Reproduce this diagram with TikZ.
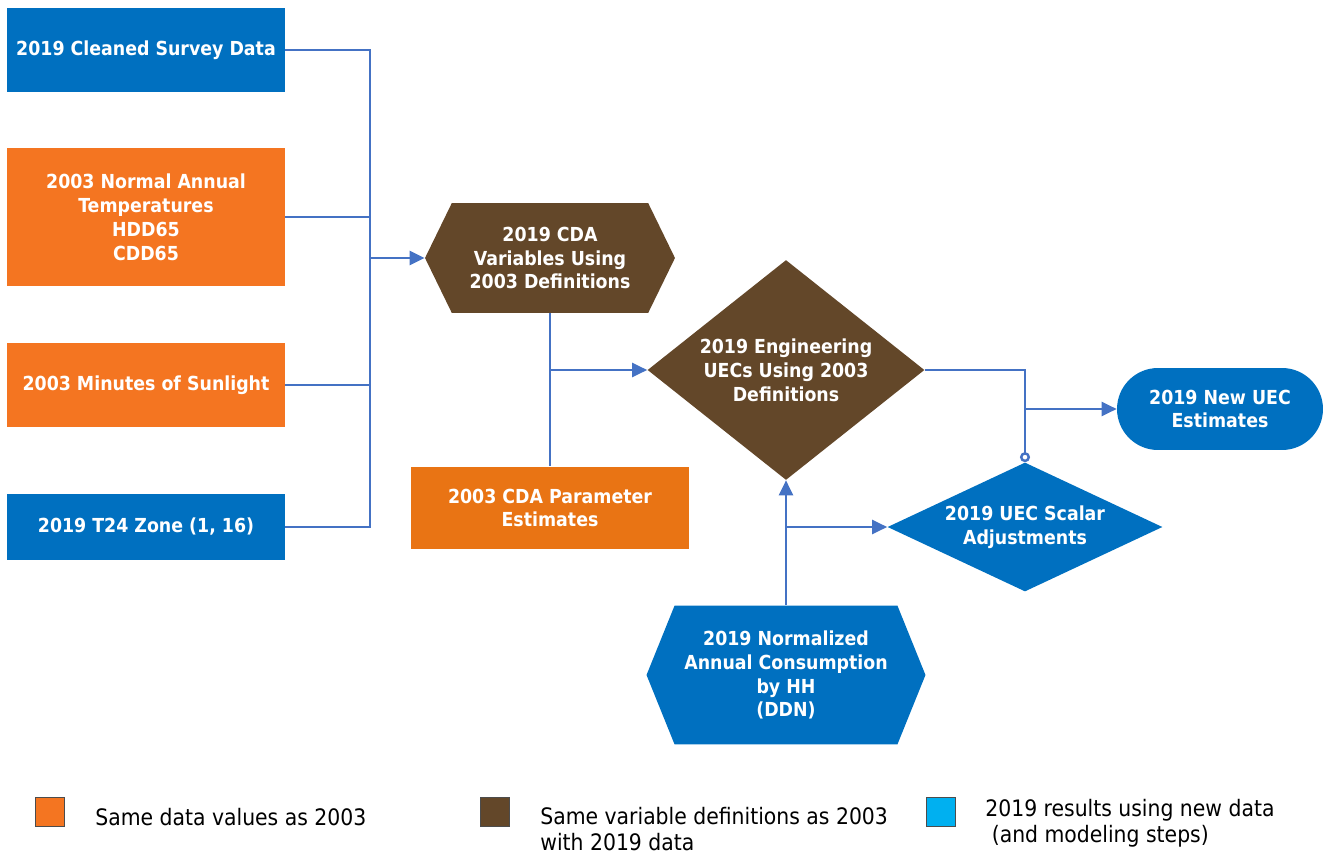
\documentclass[tikz,border=0pt]{standalone}
\usepackage{fontspec}
\setmainfont{DejaVu Sans Condensed}
\usepackage{xcolor}
\usepackage{tikz}
\usetikzlibrary{shapes.geometric,shapes.symbols,arrows.meta}

\definecolor{newblue}{RGB}{0,112,192}
\definecolor{oldorange}{RGB}{244,117,33}
\definecolor{parmorange}{RGB}{233,116,20}
\definecolor{defbrown}{RGB}{99,71,41}
\definecolor{linkblue}{RGB}{68,114,196}
\definecolor{keyblue}{RGB}{0,176,240}

\begin{document}
\begin{tikzpicture}[x=0.02cm,y=-0.02cm,
  boxtext/.style={text=white,font=\bfseries\fontsize{11}{13.6}\selectfont,align=center,inner sep=0pt},
  databox/.style={boxtext,rectangle,minimum width=5.56cm},
  hexbox/.style={boxtext,signal,signal to=west and east},
  decision/.style={boxtext,diamond},
  link/.style={draw=linkblue,line width=1.4pt},
  tip/.style={-{Triangle[length=3mm,width=2.8mm]}},
  legendkey/.style={draw=black!70,line width=0.6pt,minimum size=0.58cm,inner sep=0pt},
  legendtext/.style={font=\fontsize{12.9}{15}\selectfont,align=left,anchor=west,inner sep=0pt}]
  \useasboundingbox (0,0) rectangle (1323,855);

  % input boxes on the left
  \node[databox,fill=newblue,minimum height=1.68cm] (survey) at (146,50) {2019 Cleaned Survey Data};
  \node[databox,fill=oldorange,minimum height=2.76cm] (temps) at (146,217) {2003 Normal Annual\\Temperatures\\HDD65\\CDD65};
  \node[databox,fill=oldorange,minimum height=1.7cm] (sun) at (146,385) {2003 Minutes of Sunlight};
  \node[databox,fill=newblue,minimum height=1.32cm] (zone) at (146,527) {2019 T24 Zone (1, 16)};

  % middle column
  \node[hexbox,fill=defbrown,minimum width=5cm,minimum height=2.2cm,signal pointer angle=128] (cda) at (550,258) {2019 CDA\\Variables Using\\2003 Definitions};
  \node[databox,fill=parmorange,minimum height=1.66cm] (param) at (550,508) {2003 CDA Parameter\\Estimates};

  % engineering and scalar steps
  \node[decision,fill=defbrown,aspect=1.26,minimum width=5.54cm,minimum height=4.4cm] (eng) at (786,370) {2019 Engineering\\UECs Using 2003\\Definitions};
  \node[decision,fill=newblue,aspect=2.13,minimum width=5.5cm,minimum height=2.58cm] (scalar) at (1025,527) {2019 UEC Scalar\\Adjustments};
  \node[boxtext,fill=newblue,rounded corners=0.82cm,minimum width=4.12cm,minimum height=1.64cm] (newuec) at (1220,409) {2019 New UEC\\Estimates};
  \node[hexbox,fill=newblue,minimum width=5.58cm,minimum height=2.78cm,signal pointer angle=136] (ddn) at (786,675) {2019 Normalized\\Annual Consumption\\by HH\\(DDN)};

  % junctions
  \coordinate (trunk) at (370,258);
  \coordinate (cdajoin) at (cda.south |- eng.west);
  \coordinate (uecjoin) at (scalar.north |- newuec.west);
  \coordinate (ddnjoin) at (ddn.north |- scalar.west);

  % connectors
  \draw[link] (survey.east) -| (trunk);
  \draw[link] (temps.east) -| (trunk);
  \draw[link] (sun.east) -| (trunk);
  \draw[link] (zone.east) -| (trunk);
  \draw[link,tip] (trunk) -- (cda.west);
  \draw[link] (cda.south) -- (param.north);
  \draw[link,tip] (cdajoin) -- (eng.west);
  \draw[link,-{Circle[open,length=2mm]}] (eng.east) -| (scalar.north);
  \draw[link,tip] (uecjoin) -- (newuec.west);
  \draw[link,tip] (ddn.north) -- (eng.south);
  \draw[link,tip] (ddnjoin) -- (scalar.west);

  % legend
  \node[legendkey,fill=oldorange] (keyorange) at (50,812) {};
  \node[legendtext] (txtorange) at (95,817) {Same data values as 2003};
  \node[legendkey,fill=defbrown] (keybrown) at (495,812) {};
  \node[legendtext] (txtbrown) at (540,829) {Same variable definitions as 2003\\with 2019 data};
  \node[legendkey,fill=keyblue] (keyblue) at (941,812) {};
  \node[legendtext] (txtblue) at (985,823) {2019 results using new data\\\ (and modeling steps)};
\end{tikzpicture}
\end{document}
